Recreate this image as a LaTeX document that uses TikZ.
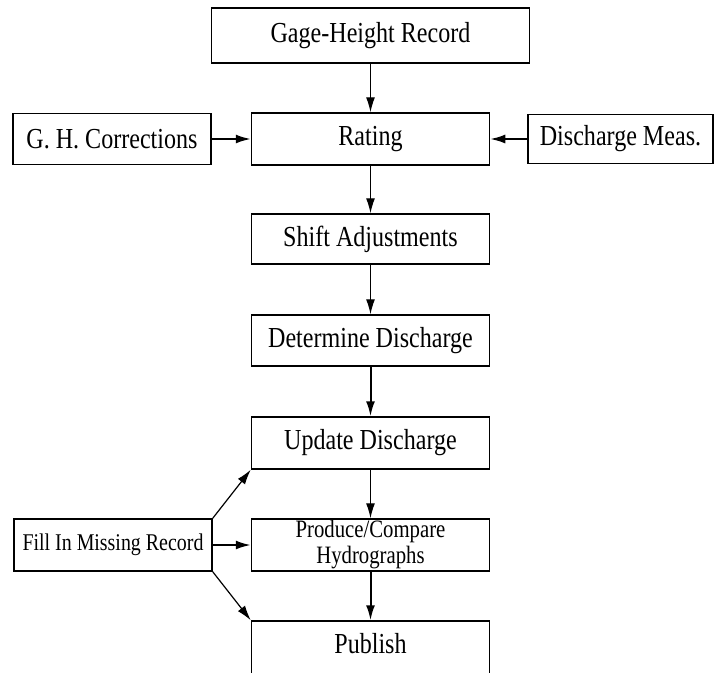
\documentclass[tikz,border=0pt]{standalone}
\usepackage{fontspec}
\setmainfont[FakeStretch=0.83]{Liberation Serif}
\usetikzlibrary{arrows.meta,positioning}
\tikzset{
  stage/.style={
    shape = rectangle,
    draw,
    line width = 1.5pt,
    minimum width = 238pt,
    minimum height = 52pt,
    inner sep = 0pt,
    font = \fontsize{29}{32}\selectfont
  },
  side/.style={
    stage,
    minimum width = 198pt
  },
  flow/.style={
    -{Latex[length=15pt,width=9pt]},
    line width = 1.2pt
  },
  bold_flow/.style={
    flow,
    line width = 2pt
  }
}

\begin{document}
\begin{tikzpicture}[x=1pt,y=-1pt]
    \useasboundingbox (0,0) rectangle (716,673);
    \def\cx{370.5}
    \node[stage, minimum width=318pt, minimum height=55pt] (gage) at (\cx,35.5) {Gage-Height Record};
    \node[stage] (rating) at (\cx,139) {Rating};
    \node[side, minimum height=51pt] (corr) at (112,139) {G. H. Corrections};
    \node[side, minimum width=185pt, minimum height=49pt] (meas) at (620.5,139) {Discharge Meas.};
    \node[stage, minimum height=50pt] (shift) at (\cx,239) {Shift Adjustments};
    \node[stage, minimum height=51pt] (determine) at (\cx,340.5) {Determine Discharge};
    \node[stage] (update) at (\cx,443) {Update Discharge};
    \node[stage, align=center, font=\fontsize{25}{26}\selectfont] (produce) at (\cx,545) {Produce/Compare\\Hydrographs};
    \node[side, font=\fontsize{24}{26}\selectfont] (fill) at (113,545) {Fill In Missing Record};
    \node[stage, minimum height=56pt, text depth=12pt] (publish) at (\cx,649) {Publish};
    \draw[flow] (gage) -- (rating);
    \draw[bold_flow] (corr) -- (rating);
    \draw[bold_flow] (meas) -- (rating);
    \draw[flow] (rating) -- (shift);
    \draw[flow] (shift) -- (determine);
    \draw[bold_flow] (determine) -- (update);
    \draw[flow] (update) -- (produce);
    \draw[bold_flow] (produce) -- (publish);
    \draw[flow] (fill.north east) -- (update.south west);
    \draw[bold_flow] (fill) -- (produce);
    \draw[flow] (fill.south east) -- (publish.north west);
\end{tikzpicture}
\end{document}
